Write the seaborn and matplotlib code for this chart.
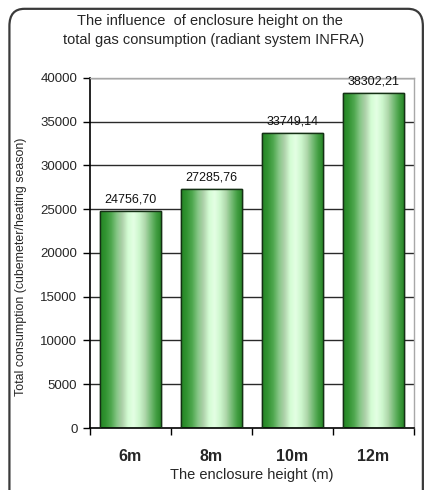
import numpy as np
import pandas as pd
import matplotlib
matplotlib.use("Agg")
import matplotlib.pyplot as plt
import seaborn as sns
from matplotlib.colors import LinearSegmentedColormap
from matplotlib.patches import FancyBboxPatch

heights = ["6m", "8m", "10m", "12m"]
consumption = [24756.70, 27285.76, 33749.14, 38302.21]
y_ticks = [0, 5000, 10000, 15000, 20000, 25000, 30000, 35000, 40000]

df = pd.DataFrame({"height": heights, "consumption": consumption})

sns.set_theme(style="white")
plt.rcParams["font.family"] = ["Liberation Sans", "DejaVu Sans"]

fig = plt.figure(figsize=(4.28, 4.90), dpi=100)
ax = fig.add_axes([0.210, 0.1265, 0.757, 0.7145])

# rounded frame around the whole chart (open towards the bottom edge)
frame = FancyBboxPatch((0.022, -0.2), 0.966, 1.182, transform=fig.transFigure,
                       boxstyle="round,pad=0,rounding_size=0.035",
                       facecolor="none", edgecolor="#3a3a3a", linewidth=1.6,
                       clip_on=False)
fig.patches.append(frame)

for yv in y_ticks[1:]:
    ax.axhline(yv, color="#2a2a2a", linewidth=1.0, zorder=0)

sns.barplot(data=df, x="height", y="consumption", width=0.76, color="#3f9f3f",
            edgecolor="#143014", linewidth=1.0, ax=ax, zorder=2)

# cylindrical green shading inside each bar
cmap = LinearSegmentedColormap.from_list("cyl", [
    "#248424", "#329432", "#50a850", "#86c686", "#b0d2ac", "#d4fdd4",
    "#e4ffe4", "#ccf6cc", "#b0d8ac", "#76bc76", "#429e42", "#248424"])
grad = np.linspace(0, 1, 256).reshape(1, -1)
for bar in ax.patches:
    x0, y0 = bar.get_x(), bar.get_y()
    w, h = bar.get_width(), bar.get_height()
    im = ax.imshow(grad, cmap=cmap, aspect="auto",
                   extent=(x0, x0 + w, y0, y0 + h), zorder=2.5,
                   interpolation="bilinear")
    im.set_clip_path(bar)
    outline = plt.Rectangle((x0, y0), w, h, facecolor="none",
                            edgecolor="#143014", linewidth=1.0, zorder=3)
    ax.add_patch(outline)

labels = [f"{v:.2f}".replace(".", ",") for v in consumption]
ax.bar_label(ax.containers[0], labels=labels, padding=4, fontsize=9,
             color="#111111")

ax.set_xlim(-0.5, 3.5)
ax.set_ylim(0, 40000)
ax.set_yticks(y_ticks)
ax.set_yticklabels([str(v) for v in y_ticks], fontsize=9.5)

ax.set_xticks(range(len(heights)))
ax.set_xticklabels(heights, fontsize=11.5, fontweight="bold")
ax.set_xticks(np.arange(-0.5, 4.0, 1.0), minor=True)
ax.tick_params(axis="x", which="major", length=0, pad=15)
ax.tick_params(axis="x", which="minor", direction="out", length=5,
               width=1, color="black", bottom=True)
ax.tick_params(axis="y", direction="out", length=5, width=1, color="black",
               left=True, pad=4)

ax.set_xlabel("The enclosure height (m)", fontsize=10.5, labelpad=3)
ax.set_ylabel("Total consumption (cubemeter/heating season)", fontsize=8.9)
ax.yaxis.set_label_coords(-0.193, 0.46)

for side in ["left", "bottom"]:
    ax.spines[side].set_color("black")
    ax.spines[side].set_linewidth(1.2)
for side in ["top", "right"]:
    ax.spines[side].set_color("#a8a8a8")
    ax.spines[side].set_linewidth(1.0)

fig.text(0.49, 0.958, "The influence  of enclosure height on the",
         ha="center", va="center", fontsize=10.5)
fig.text(0.50, 0.918, "total gas consumption (radiant system INFRA)",
         ha="center", va="center", fontsize=10.5)

fig.savefig("out.png", dpi=100)
